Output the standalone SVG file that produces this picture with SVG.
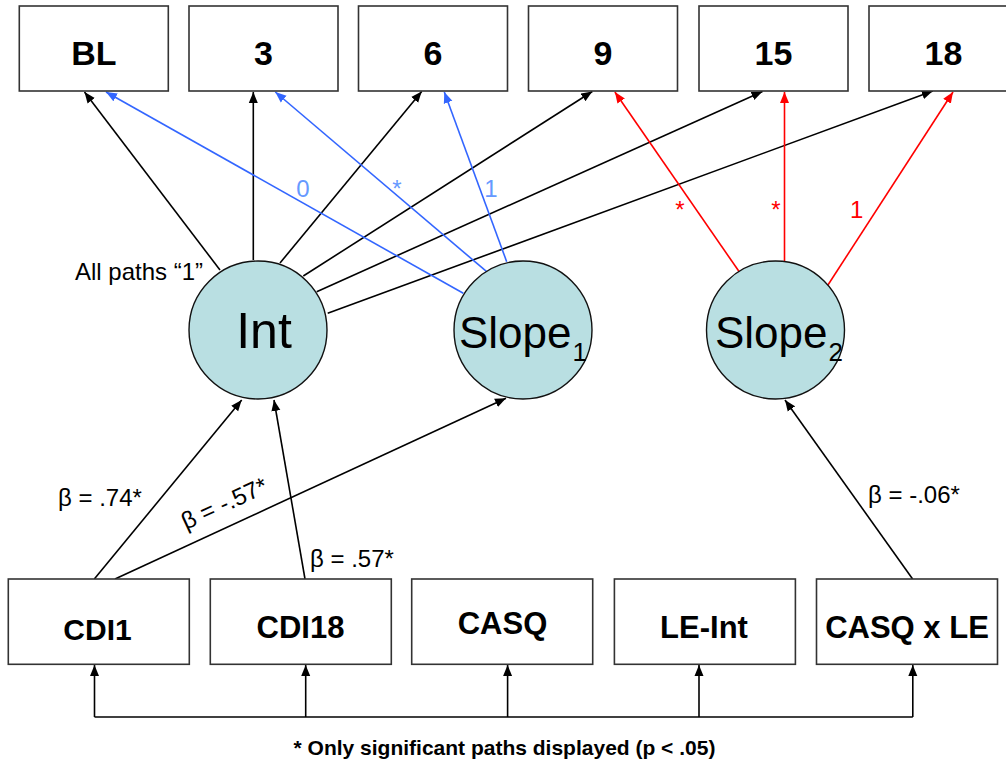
<svg xmlns="http://www.w3.org/2000/svg" width="1006" height="767" viewBox="0 0 1006 767">
<style>
.box{fill:#fff;stroke:#333;stroke-width:1.6}
.lat{fill:#b9dfe2;stroke:#111;stroke-width:1.4}
.bt{font-family:"Liberation Sans",Arial,sans-serif;font-weight:bold;fill:#000;text-anchor:middle}
.t{font-family:"Liberation Sans",Arial,sans-serif;fill:#000}
.k{stroke:#000;stroke-width:1.6;fill:none}
.b{stroke:#3366ff;stroke-width:1.6;fill:none}
.r{stroke:#ff0000;stroke-width:1.6;fill:none}
.bl{font-family:"Liberation Sans",Arial,sans-serif;fill:#6699ff;font-size:24px;text-anchor:middle}
.rl{font-family:"Liberation Sans",Arial,sans-serif;fill:#ff0000;font-size:24px;text-anchor:middle}
</style>
<defs>
<marker id="ak" markerUnits="userSpaceOnUse" markerWidth="12" markerHeight="10" refX="11" refY="5" orient="auto"><path d="M0,0.5 L11,5 L0,9.5 z" fill="#000"/></marker>
<marker id="ab" markerUnits="userSpaceOnUse" markerWidth="12" markerHeight="10" refX="11" refY="5" orient="auto"><path d="M0,0.5 L11,5 L0,9.5 z" fill="#3366ff"/></marker>
<marker id="ar" markerUnits="userSpaceOnUse" markerWidth="12" markerHeight="10" refX="11" refY="5" orient="auto"><path d="M0,0.5 L11,5 L0,9.5 z" fill="#ff0000"/></marker>
</defs>
<rect width="1006" height="767" fill="#fff"/>

<g id="connectors">
<line class="k" x1="220" y1="270" x2="84.5" y2="92" marker-end="url(#ak)"/>
<line class="k" x1="253.3" y1="260" x2="253.3" y2="92" marker-end="url(#ak)"/>
<line class="k" x1="280" y1="263" x2="421.7" y2="91.5" marker-end="url(#ak)"/>
<line class="k" x1="303.3" y1="276" x2="592.3" y2="91.5" marker-end="url(#ak)"/>
<line class="k" x1="316.7" y1="291.7" x2="762.5" y2="91.5" marker-end="url(#ak)"/>
<line class="k" x1="327.7" y1="313.3" x2="932.8" y2="91" marker-end="url(#ak)"/>
<line class="b" x1="463.3" y1="293.3" x2="106" y2="92" marker-end="url(#ab)"/>
<line class="b" x1="486.7" y1="271.7" x2="275.3" y2="92" marker-end="url(#ab)"/>
<line class="b" x1="506.7" y1="261.7" x2="444.3" y2="92" marker-end="url(#ab)"/>
<line class="r" x1="741.3" y1="274.8" x2="614.9" y2="92" marker-end="url(#ar)"/>
<line class="r" x1="784.5" y1="261.6" x2="784.5" y2="92" marker-end="url(#ar)"/>
<line class="r" x1="827.3" y1="286" x2="953" y2="92" marker-end="url(#ar)"/>
<line class="k" x1="94.3" y1="579" x2="241.7" y2="400" marker-end="url(#ak)"/>
<line class="k" x1="115" y1="579" x2="506" y2="398.3" marker-end="url(#ak)"/>
<line class="k" x1="305" y1="579" x2="274" y2="400" marker-end="url(#ak)"/>
<line class="k" x1="912.6" y1="579" x2="785" y2="400" marker-end="url(#ak)"/>
<polyline class="k" points="94.5,717 912.8,717"/>
<line class="k" x1="94.5" y1="717" x2="94.5" y2="665" marker-end="url(#ak)"/>
<line class="k" x1="305.7" y1="717" x2="305.7" y2="665" marker-end="url(#ak)"/>
<line class="k" x1="507.6" y1="717" x2="507.6" y2="665" marker-end="url(#ak)"/>
<line class="k" x1="699" y1="717" x2="699" y2="665" marker-end="url(#ak)"/>
<line class="k" x1="912.8" y1="717" x2="912.8" y2="665" marker-end="url(#ak)"/>
<text class="bl" x="303" y="197">0</text>
<text class="bl" x="397" y="197">*</text>
<text class="bl" x="491" y="197">1</text>
<text class="rl" x="680" y="218">*</text>
<text class="rl" x="776" y="218">*</text>
<text class="rl" x="856.6" y="218">1</text>
<text class="t" x="75" y="280" font-size="24">All paths “1”</text>
<text class="t" x="58" y="506" font-size="24">β = .74*</text>
<text class="t" x="0" y="0" font-size="24" transform="translate(186,530) rotate(-24.7)">β = -.57*</text>
<text class="t" x="310" y="567" font-size="24">β = .57*</text>
<text class="t" x="868" y="503" font-size="24">β = -.06*</text>
</g>

<g id="n-BL"><rect class="box" x="19.3" y="6" width="149" height="85"/><text class="bt" x="93.8" y="65" font-size="34">BL</text></g>
<g id="n-3"><rect class="box" x="189" y="6" width="149" height="85"/><text class="bt" x="263.5" y="65" font-size="34">3</text></g>
<g id="n-6"><rect class="box" x="358.5" y="6" width="149" height="85"/><text class="bt" x="433" y="65" font-size="34">6</text></g>
<g id="n-9"><rect class="box" x="528.5" y="6" width="149" height="85"/><text class="bt" x="603" y="65" font-size="34">9</text></g>
<g id="n-15"><rect class="box" x="699" y="6" width="149" height="85"/><text class="bt" x="773.5" y="65" font-size="34">15</text></g>
<g id="n-18"><rect class="box" x="869" y="6" width="149" height="85"/><text class="bt" x="943.5" y="65" font-size="34">18</text></g>

<g id="n-Int"><circle class="lat" cx="258" cy="330" r="69"/><text class="t" x="264" y="348" font-size="50" text-anchor="middle">Int</text></g>
<g id="n-Slope1"><circle class="lat" cx="523" cy="330" r="69"/><text class="t" x="459" y="348" font-size="44">Slope<tspan dx="1" dy="13" font-size="26">1</tspan></text></g>
<g id="n-Slope2"><circle class="lat" cx="775.5" cy="330" r="69"/><text class="t" x="715" y="348" font-size="44">Slope<tspan dx="1" dy="13" font-size="26">2</tspan></text></g>

<g id="n-CDI1"><rect class="box" x="8.3" y="579" width="181" height="85.3"/><text class="bt" x="97.5" y="640" font-size="30">CDI1</text></g>
<g id="n-CDI18"><rect class="box" x="210.3" y="579" width="181" height="85.3"/><text class="bt" x="300.5" y="637.7" font-size="31">CDI18</text></g>
<g id="n-CASQ"><rect class="box" x="411.7" y="579" width="181" height="85.3"/><text class="bt" x="502.5" y="634" font-size="31">CASQ</text></g>
<g id="n-LEInt"><rect class="box" x="614.4" y="579" width="181" height="85.3"/><text class="bt" x="704" y="638.3" font-size="31">LE-Int</text></g>
<g id="n-CASQxLE"><rect class="box" x="816.5" y="579" width="181" height="85.3"/><text class="bt" x="907" y="638.3" font-size="31">CASQ x LE</text></g>

<text class="bt" x="504.5" y="755" font-size="21">* Only significant paths displayed (p &lt; .05)</text>
</svg>
